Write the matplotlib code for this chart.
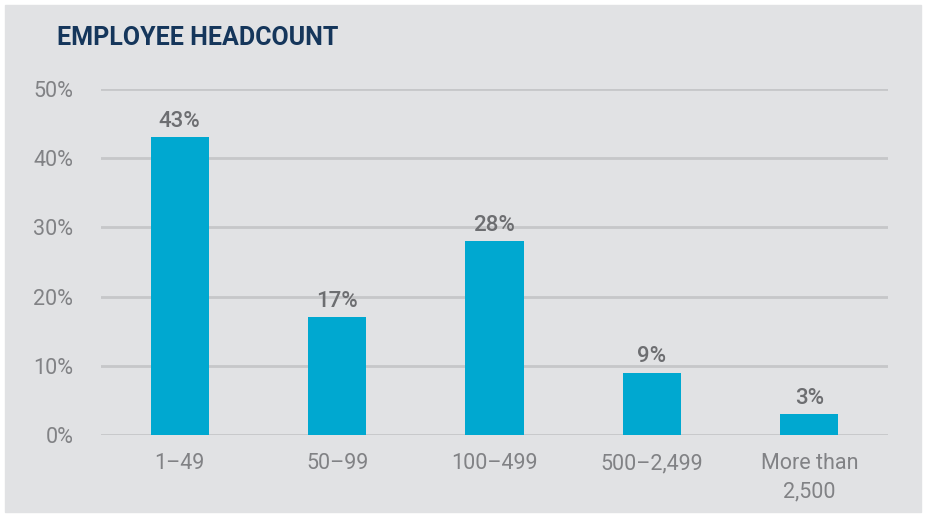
import matplotlib.pyplot as plt

categories = ['1–49', '50–99', '100–499', '500–2,499', 'More than\n2,500']
values = [43, 17, 28, 9, 3]
yticks = [0, 10, 20, 30, 40, 50]

bg = '#e1e2e4'
bar_color = '#00a8d0'
text_gray = '#6d6e71'
tick_gray = '#818285'

plt.rcParams['font.family'] = ['Roboto', 'DejaVu Sans']

fig = plt.figure(figsize=(9.26, 5.14), dpi=100)
fig.patch.set_facecolor('white')
# grey panel behind everything
fig.patches.append(plt.Rectangle((5 / 926, 2 / 514), 916 / 926, 507 / 514,
                                 transform=fig.transFigure, color=bg, zorder=-10))

ax = fig.add_axes([101 / 926, 79 / 514, 787 / 926, 346 / 514])
ax.patch.set_alpha(0)

x = range(len(categories))
ax.bar(x, values, width=0.37, color=bar_color, zorder=3)

for i, v in enumerate(values):
    ax.text(i, v + 0.8, f'{v}%', ha='center', va='bottom', fontsize=16,
            fontweight='medium', color=text_gray, zorder=4)

ax.set_xlim(-0.5, len(categories) - 0.5)
ax.set_ylim(0, 50)
ax.set_yticks(yticks)
ax.set_yticklabels([f'{t}%' for t in yticks])
ax.set_xticks(list(x))
ax.set_xticklabels(categories, linespacing=1.45)
ax.tick_params(axis='both', length=0, labelsize=15.5, labelcolor=tick_gray)
ax.tick_params(axis='y', pad=20)
ax.tick_params(axis='x', pad=13)
ax.yaxis.grid(True, color='#c6c7c9', linewidth=2, zorder=1)
ax.set_axisbelow(True)
for s in ax.spines.values():
    s.set_visible(False)

fig.text(57 / 926, 1 - 38 / 514, 'EMPLOYEE HEADCOUNT', fontsize=18,
         fontweight='bold', color='#15365b', va='center', ha='left')

fig.savefig('out.png', dpi=100, facecolor='white')
